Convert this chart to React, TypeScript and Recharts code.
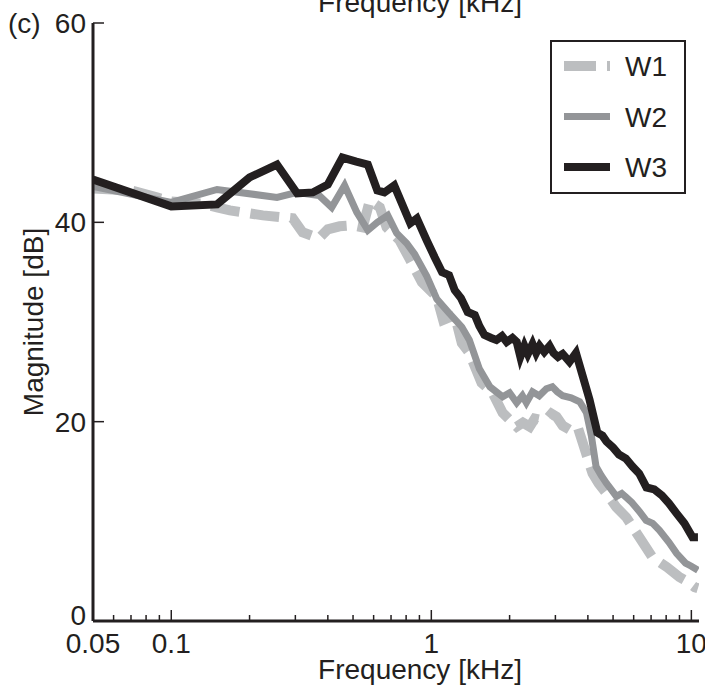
import React from 'react';
import { LineChart, Line, XAxis, YAxis, Legend, Label } from 'recharts';

const FONT = '"Liberation Sans", Arial, Helvetica, sans-serif';
const INK = '#231f20';
const MARGIN_TOP = 23;

// ---- data (frequency in kHz, magnitude in dB) ----
const w1Freq = [0.05, 0.07, 0.088, 0.1, 0.13, 0.15, 0.168, 0.225, 0.293, 0.32, 0.37, 0.4, 0.444, 0.5, 0.545, 0.58, 0.634, 0.673, 0.755, 0.83, 0.92, 1.05, 1.11, 1.23, 1.31, 1.4, 1.56, 1.72, 1.88, 2.0, 2.13, 2.25, 2.39, 2.5, 2.61, 2.77, 2.9, 3.03, 3.2, 3.4, 3.65, 3.95, 4.17, 4.4, 4.72, 5.15, 5.62, 6.31, 7.08, 8.06, 9.0, 9.6, 10.3, 10.6];
const w1Mag = [43.4, 43.2, 42.5, 42.1, 41.9, 41.5, 41.2, 40.7, 40.4, 39.0, 38.4, 39.3, 39.6, 39.7, 39.5, 42.2, 41.5, 39.5, 38.2, 36.2, 34.0, 32.5, 30.2, 30.7, 27.9, 26.9, 23.9, 22.9, 20.9, 20.2, 19.5, 19.9, 19.5, 20.3, 20.2, 20.2, 20.8, 20.5, 19.6, 19.2, 19.5, 16.7, 14.8, 13.8, 12.8, 11.4, 10.4, 8.4, 6.4, 5.4, 4.4, 4.0, 3.4, 3.3];

const w2Freq = [0.05, 0.1, 0.15, 0.255, 0.305, 0.37, 0.414, 0.464, 0.517, 0.57, 0.62, 0.68, 0.736, 0.804, 0.863, 0.96, 1.05, 1.17, 1.31, 1.4, 1.53, 1.68, 1.88, 2.0, 2.13, 2.24, 2.32, 2.45, 2.6, 2.77, 2.92, 3.05, 3.2, 3.45, 3.72, 3.95, 4.13, 4.3, 4.5, 4.72, 4.85, 5.15, 5.4, 5.62, 5.9, 6.31, 6.7, 7.1, 7.54, 8.2, 8.77, 9.5, 10.0, 10.6];
const w2Mag = [43.6, 42.0, 43.3, 42.5, 43.0, 42.7, 41.5, 43.7, 41.0, 39.2, 40.0, 40.7, 38.9, 37.9, 36.8, 34.6, 32.3, 30.9, 29.5, 28.2, 25.3, 23.5, 22.5, 22.9, 21.9, 22.6, 21.9, 23.0, 22.6, 23.3, 23.5, 23.0, 22.6, 22.4, 22.0, 20.9, 18.5, 15.5, 14.6, 13.8, 13.4, 12.5, 12.8, 12.4, 11.9, 11.0, 10.1, 9.8, 9.1, 7.9, 6.8, 5.8, 5.5, 5.1];

const w3Freq = [0.05, 0.1, 0.15, 0.2, 0.255, 0.305, 0.35, 0.4, 0.455, 0.515, 0.57, 0.62, 0.66, 0.72, 0.83, 0.88, 0.96, 1.03, 1.1, 1.17, 1.23, 1.3, 1.38, 1.47, 1.53, 1.6, 1.7, 1.78, 1.87, 1.95, 2.05, 2.13, 2.2, 2.28, 2.35, 2.45, 2.53, 2.61, 2.72, 2.85, 2.95, 3.07, 3.2, 3.4, 3.6, 3.79, 4.06, 4.35, 4.55, 4.72, 5.0, 5.27, 5.6, 5.94, 6.3, 6.72, 7.2, 7.7, 8.2, 8.77, 9.4, 10.1, 10.6];
const w3Mag = [44.3, 41.6, 41.8, 44.5, 45.8, 42.9, 43.0, 43.8, 46.5, 46.1, 45.8, 43.2, 43.0, 43.7, 39.9, 40.4, 38.2, 36.5, 35.0, 34.7, 33.2, 32.4, 31.0, 30.7, 29.6, 28.7, 28.4, 28.2, 28.6, 28.0, 28.4, 28.0, 26.5, 27.6, 26.8, 27.8, 26.9, 27.6, 27.0, 27.6, 26.9, 26.5, 26.8, 26.0, 26.9, 24.9, 22.2, 18.9, 18.6, 18.0, 17.4, 16.7, 16.3, 15.5, 14.8, 13.4, 13.2, 12.6, 11.8, 10.8, 9.8, 8.4, 8.4];

const majorTicks = [0.05, 0.1, 1, 10];
const majorLabels = ['0.05', '0.1', '1', '10'];
const minorTicks = [0.06, 0.07, 0.08, 0.09, 0.2, 0.3, 0.4, 0.5, 0.6, 0.7, 0.8, 0.9, 2, 3, 4, 5, 6, 7, 8, 9];
const yTicks = [0, 20, 40, 60];
const xDomain = [0.05, 10.7];
const yDomain = [0, 60];

const series = [
  { name: 'W1', freq: w1Freq, mag: w1Mag, color: '#bcbec0', width: 10, dash: '29 11' },
  { name: 'W2', freq: w2Freq, mag: w2Mag, color: '#939598', width: 7, dash: undefined },
  { name: 'W3', freq: w3Freq, mag: w3Mag, color: '#231f20', width: 8, dash: undefined },
];

const toRows = (f: number[], m: number[]) => f.map((v, i) => ({ f: v, m: m[i] }));

const allXTicks = [...majorTicks, ...minorTicks].sort((a, b) => a - b);

const XTick = (props: any) => {
  const { x, y, payload } = props;
  const idx = majorTicks.indexOf(payload.value);
  const major = idx >= 0;
  return (
    <g>
      <line x1={x} x2={x} y1={y} y2={y - (major ? 11 : 6)} stroke={INK} strokeWidth={1.5} />
      {major && (
        <text x={x} y={y + 32} textAnchor="middle" fontSize={28} fill={INK} fontFamily={FONT}>
          {majorLabels[idx]}
        </text>
      )}
    </g>
  );
};

const YTick = (props: any) => {
  const { x, y, payload } = props;
  const isZero = payload.value === yDomain[0];
  return (
    <g>
      <line x1={x} x2={x + 11} y1={y} y2={y} stroke={INK} strokeWidth={1.5} />
      <text x={x - 7} y={y + (isZero ? 4 : 10)} textAnchor="end" fontSize={28} fill={INK} fontFamily={FONT}>
        {String(payload.value)}
      </text>
    </g>
  );
};

const LegendBox = () => (
  <svg width={136} height={154} style={{ display: 'block' }}>
    <rect x={1} y={1} width={134} height={152} fill="#fff" stroke={INK} strokeWidth={2} />
    {series.map((s, i) => {
      const cy = 26 + i * 50.5;
      return (
        <g key={s.name}>
          <line x1={14} x2={60} y1={cy} y2={cy} stroke={s.color} strokeWidth={s.width} strokeDasharray={s.dash ? '32 11' : undefined} />
          <text x={75} y={cy + 10} fontSize={28} fill={INK} fontFamily={FONT}>{s.name}</text>
        </g>
      );
    })}
  </svg>
);

export default function App() {
  return (
    <div style={{ position: 'absolute', left: 0, top: 0, width: 705, height: 690, background: '#fff' }}>
      <LineChart width={705} height={690} margin={{ top: MARGIN_TOP, right: 6, bottom: 0, left: 0 }}>
        <XAxis
          xAxisId="main"
          dataKey="f"
          type="number"
          scale="log"
          domain={xDomain}
          allowDataOverflow
          ticks={allXTicks}
          interval={0}
          height={69}
          tickSize={0}
          tickMargin={0}
          tickLine={false}
          tick={<XTick />}
          axisLine={{ stroke: INK, strokeWidth: 3 }}
        >
          <Label
            content={(p: any) => {
              const vb = p.viewBox;
              const cx = vb.x + vb.width / 2 + 24;
              return (
                <g>
                  <text x={cx} y={vb.y + 58} textAnchor="middle" fontSize={28} fill={INK} fontFamily={FONT}>
                    Frequency [kHz]
                  </text>
                  <text x={cx} y={MARGIN_TOP - 11} textAnchor="middle" fontSize={28} fill={INK} fontFamily={FONT}>
                    Frequency [kHz]
                  </text>
                </g>
              );
            }}
          />
        </XAxis>
        <XAxis
          xAxisId="top"
          orientation="top"
          dataKey="f"
          type="number"
          scale="log"
          domain={xDomain}
          allowDataOverflow
          height={0}
          tick={false}
          tickLine={false}
          axisLine={{ stroke: INK, strokeWidth: 3 }}
        />
        <YAxis
          yAxisId="main"
          type="number"
          domain={yDomain}
          ticks={yTicks}
          interval={0}
          width={93}
          tickSize={0}
          tickMargin={0}
          tickLine={false}
          tick={<YTick />}
          axisLine={{ stroke: INK, strokeWidth: 3 }}
        >
          <Label
            content={(p: any) => {
              const vb = p.viewBox;
              const cx = vb.x + 33;
              const cy = vb.y + vb.height / 2;
              return (
                <g>
                  <text transform={`translate(${cx},${cy}) rotate(-90)`} textAnchor="middle" dominantBaseline="central" fontSize={28} fill={INK} fontFamily={FONT}>
                    Magnitude [dB]
                  </text>
                  <text x={vb.x + 8} y={vb.y + 10} fontSize={28} fill={INK} fontFamily={FONT}>
                    (c)
                  </text>
                </g>
              );
            }}
          />
        </YAxis>
        <YAxis
          yAxisId="right"
          orientation="right"
          type="number"
          domain={yDomain}
          width={0}
          tick={false}
          tickLine={false}
          axisLine={{ stroke: INK, strokeWidth: 3 }}
        />
        {series.map((s) => (
          <Line
            key={s.name}
            xAxisId="main"
            yAxisId="main"
            data={toRows(s.freq, s.mag)}
            dataKey="m"
            name={s.name}
            type="linear"
            stroke={s.color}
            strokeWidth={s.width}
            strokeDasharray={s.dash}
            strokeLinejoin="miter"
            strokeLinecap="butt"
            dot={false}
            activeDot={false}
            isAnimationActive={false}
          />
        ))}
        <Legend
          layout="vertical"
          align="center"
          verticalAlign="middle"
          wrapperStyle={{ position: 'absolute', left: 550, top: 40, width: 136, height: 154 }}
          content={() => <LegendBox />}
        />
      </LineChart>
    </div>
  );
}
